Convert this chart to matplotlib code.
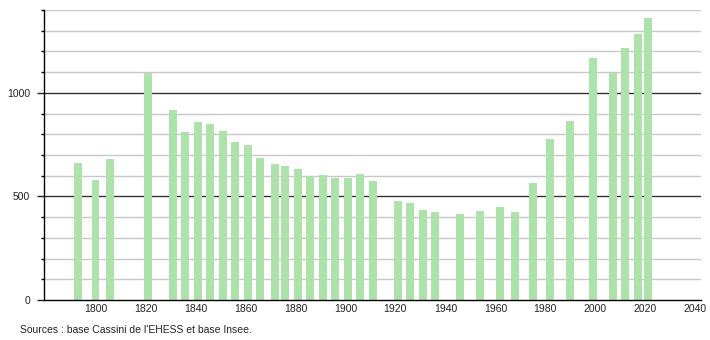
import matplotlib
matplotlib.use("Agg")
import matplotlib.pyplot as plt
from matplotlib.ticker import MultipleLocator

plt.rcParams['font.family'] = ['Liberation Sans', 'DejaVu Sans']

# census years and population
years = [1793, 1800, 1806, 1821, 1831, 1836, 1841, 1846, 1851, 1856, 1861, 1866,
         1872, 1876, 1881, 1886, 1891, 1896, 1901, 1906, 1911, 1921, 1926, 1931,
         1936, 1946, 1954, 1962, 1968, 1975, 1982, 1990, 1999, 2007, 2012, 2017, 2021]
population = [662, 581, 681, 1097, 915, 813, 861, 852, 814, 765, 750, 687,
              658, 649, 634, 600, 605, 590, 590, 610, 576, 479, 469, 436,
              424, 413, 431, 447, 423, 565, 778, 866, 1170, 1097, 1215, 1284, 1360]
x_ticks = [1800, 1820, 1840, 1860, 1880, 1900, 1920, 1940, 1960, 1980, 2000, 2020, 2040]
source = "Sources : base Cassini de l'EHESS et base Insee."

fig = plt.figure(figsize=(7.1, 3.4), dpi=100)
ax = fig.add_axes([0.062, 0.1176, 0.925, 0.853])

ax.bar(years, population, width=3.2, color="#ade3ab", zorder=3)

# grid: light every 100, dark every 500
for v in range(100, 1500, 100):
    if v % 500 == 0:
        ax.axhline(v, color="#333333", lw=1, zorder=1)
    else:
        ax.axhline(v, color="#c8c8c8", lw=1, zorder=1)

ax.set_xlim(1779.4, 2042.2)
ax.set_ylim(0, 1400)
ax.set_xticks(x_ticks)
ax.set_yticks([0, 500, 1000])
ax.yaxis.set_minor_locator(MultipleLocator(100))
ax.tick_params(axis="x", length=0, pad=3, labelsize=7.5, colors="#222222")
ax.tick_params(axis="y", which="major", length=5, width=1, pad=5, labelsize=7.5, colors="#222222")
ax.tick_params(axis="y", which="minor", length=2, width=1)

for s in ["top", "right"]:
    ax.spines[s].set_visible(False)
ax.spines["left"].set_linewidth(1)
ax.spines["bottom"].set_linewidth(1)
ax.spines["left"].set_zorder(4)
ax.spines["bottom"].set_zorder(4)

fig.text(20 / 710, 1 - 330 / 340, source, fontsize=7.5, color="#222222", va="center", ha="left")

fig.savefig("out.png", dpi=100)
